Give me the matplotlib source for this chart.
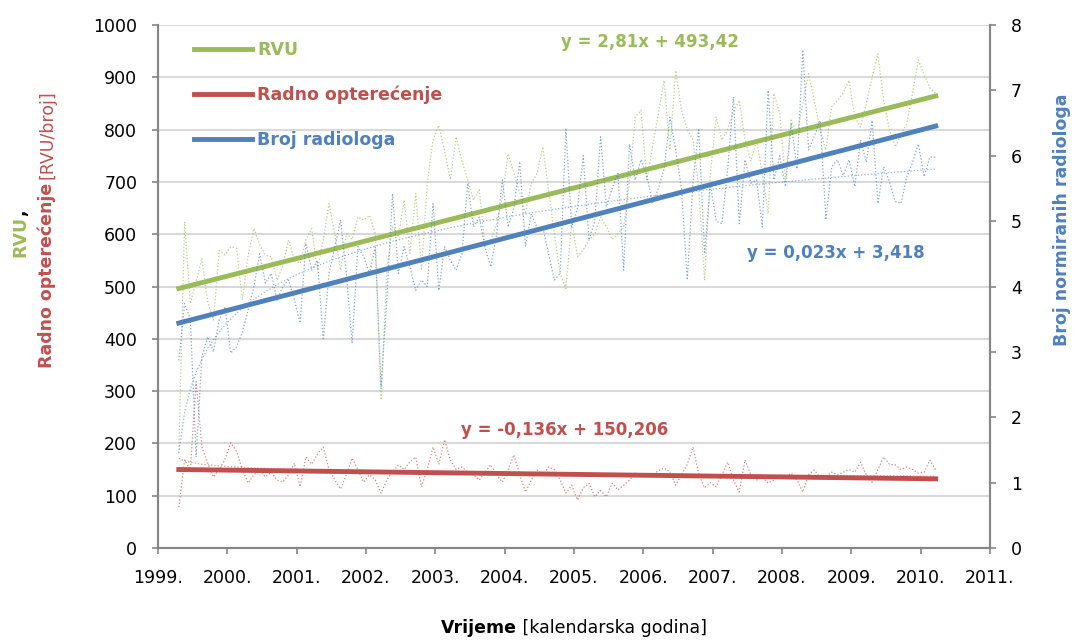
import numpy as np
import matplotlib
matplotlib.use('Agg')
import matplotlib.pyplot as plt

plt.rcParams['font.family'] = ['DejaVu Sans']

# mjesečni podaci, od travnja 1999.
start_year = 1999.3
rvu = [181, 624, 467, 510, 554, 470, 436, 569, 560, 576, 573, 474, 560, 611, 580, 560,
       557, 512, 540, 589, 550, 544, 590, 611, 531, 589, 659, 600, 531, 601, 590, 633,
       627, 636, 601, 283, 531, 614, 595, 665, 563, 678, 531, 697, 780, 808, 760, 704,
       786, 740, 704, 665, 685, 576, 589, 620, 671, 754, 716, 680, 639, 697, 716, 767,
       685, 600, 525, 496, 627, 557, 570, 589, 600, 633, 614, 590, 601, 614, 700, 824,
       837, 704, 767, 830, 894, 761, 913, 837, 800, 780, 685, 512, 716, 824, 780, 800,
       834, 856, 780, 740, 780, 716, 639, 869, 831, 704, 818, 792, 850, 907, 856, 800,
       761, 844, 856, 870, 894, 824, 805, 850, 900, 945, 856, 800, 767, 790, 812, 870,
       933, 905, 880, 869]
opterecenje = [78, 168, 150, 318, 193, 162, 136, 150, 170, 201, 185, 150, 124, 140, 149, 136,
               145, 130, 126, 140, 162, 117, 174, 160, 180, 193, 150, 130, 113, 140, 172, 150,
               126, 140, 130, 105, 130, 145, 159, 150, 165, 174, 117, 150, 193, 160, 207, 168,
               150, 155, 145, 140, 130, 145, 159, 140, 126, 150, 178, 140, 107, 130, 149, 140,
               155, 150, 130, 105, 120, 92, 115, 124, 98, 110, 98, 124, 111, 120, 130, 143,
               140, 136, 140, 148, 153, 145, 120, 140, 160, 193, 140, 115, 125, 117, 140, 164,
               130, 107, 168, 140, 130, 135, 124, 130, 140, 135, 143, 130, 107, 140, 149, 135,
               136, 145, 140, 145, 150, 145, 164, 140, 126, 150, 174, 160, 159, 150, 155, 150,
               143, 145, 168, 149]
radiolozi = [2.87, 3.74, 3.5, 1.39, 2.93, 3.23, 3.0, 3.49, 3.69, 2.98, 3.08, 3.3, 3.64, 4.0, 4.5, 4.05,
             4.2, 3.79, 4.0, 4.1, 3.8, 3.44, 4.66, 4.25, 4.4, 3.18, 4.2, 4.6, 5.02, 4.2, 3.13, 4.61,
             4.46, 4.2, 4.6, 2.46, 3.79, 5.42, 4.2, 4.61, 4.3, 3.94, 4.1, 4.0, 5.27, 3.94, 4.61, 4.4,
             4.25, 4.5, 5.58, 4.91, 5.06, 4.6, 4.3, 4.8, 5.63, 4.91, 5.2, 5.91, 4.61, 5.11, 4.9, 4.91,
             4.5, 4.1, 4.2, 6.42, 4.91, 5.2, 6.0, 4.71, 5.0, 6.29, 5.22, 5.5, 5.73, 4.25, 6.18, 5.63,
             5.94, 5.7, 5.27, 5.5, 5.8, 6.59, 6.09, 5.5, 4.1, 5.6, 6.42, 4.5, 5.58, 5.0, 4.96, 5.8,
             6.9, 4.96, 5.94, 5.58, 5.63, 4.91, 7.0, 5.63, 6.0, 5.53, 6.5, 5.8, 7.62, 6.09, 6.3, 6.54,
             5.02, 5.83, 5.94, 5.7, 5.94, 5.53, 6.24, 5.9, 6.54, 5.27, 5.83, 5.6, 5.3, 5.27, 5.68, 5.9,
             6.18, 5.68, 5.98, 5.98]

# linearni trendovi (koeficijenti s grafa)
trend_rvu = (2.81, 493.42)
trend_opt = (-0.136, 150.206)
trend_rad = (0.023, 3.418)
eq_rvu = 'y = 2,81x + 493,42'
eq_opt = 'y = -0,136x + 150,206'
eq_rad = 'y = 0,023x + 3,418'
years = list(range(1999, 2012))

green, red, blue = '#9BBB59', '#C0504D', '#4F81BD'
grey = '#868686'

n = len(rvu)
t = start_year + np.arange(n) / 12.0
idx = np.arange(1, n + 1)

fig = plt.figure(figsize=(10.76, 6.41), dpi=100)
ax = fig.add_axes([158 / 1076, 1 - 548 / 641, 832 / 1076, 523 / 641])
ax2 = ax.twinx()

ax.plot(t, rvu, color=green, lw=0.9, ls=':', alpha=0.7)
ax.plot(t, opterecenje, color=red, lw=0.9, ls=':', alpha=0.7)
ax2.plot(t, radiolozi, color=blue, lw=0.9, ls=':', alpha=0.7)

# logaritamski trendovi
c = np.polyfit(np.log(idx), opterecenje, 1)
ax.plot(t, np.polyval(c, np.log(idx)), color=red, lw=0.9, ls=':', alpha=0.6)
c = np.polyfit(np.log(idx), radiolozi, 1)
ax2.plot(t, np.polyval(c, np.log(idx)), color=blue, lw=0.9, ls=':', alpha=0.6)

h1, = ax.plot(t, trend_rvu[0] * idx + trend_rvu[1], color=green, lw=3.5, label='RVU')
h2, = ax.plot(t, trend_opt[0] * idx + trend_opt[1], color=red, lw=3.5, label='Radno opterećenje')
h3, = ax2.plot(t, trend_rad[0] * idx + trend_rad[1], color=blue, lw=3.5, label='Broj radiologa')

ax.set_xlim(1999, 2011)
ax.set_ylim(0, 1000)
ax2.set_ylim(0, 8)
ax.set_xticks(years)
ax.set_xticklabels([f'{y}.' for y in years])
ax.set_yticks(range(0, 1001, 100))
ax2.set_yticks(range(0, 9))
ax.grid(axis='y', color='#D9D9D9', lw=1.5)
ax.set_axisbelow(True)

for a in (ax, ax2):
    a.spines['top'].set_visible(False)
    for s in ('left', 'right', 'bottom'):
        a.spines[s].set_color(grey)
        a.spines[s].set_linewidth(1.5)
    a.tick_params(colors=grey, labelcolor='black', labelsize=12.5, length=4, width=1.2, pad=11)

leg = ax2.legend(handles=[h1, h2, h3], loc='upper left', bbox_to_anchor=(0.025, 1.0),
                 frameon=False, handlelength=3.3, handletextpad=0.3, labelspacing=1.55,
                 prop={'weight': 'bold', 'size': 12.5})
for txt, col in zip(leg.get_texts(), (green, red, blue)):
    txt.set_color(col)

ax.text(2006.1, 967, eq_rvu, color=green, weight='bold', fontsize=12, ha='center', va='center')
ax.text(2004.87, 226, eq_opt, color=red, weight='bold', fontsize=12, ha='center', va='center')
ax2.text(2008.77, 4.51, eq_rad, color=blue, weight='bold', fontsize=12, ha='center', va='center')

fig.text(1062 / 1076, 1 - 220 / 641, 'Broj normiranih radiologa', color=blue, weight='bold',
         fontsize=12.5, rotation=90, ha='center', va='center')

# složeni natpisi osi
fig.canvas.draw()
r = fig.canvas.get_renderer()
H, W = fig.bbox.height, fig.bbox.width

a1 = fig.text(20 / W, 1 - 257 / H, 'RVU', color=green, weight='bold', fontsize=12.5,
              rotation=90, ha='center', va='bottom')
bb = a1.get_window_extent(r)
fig.text(20 / W, bb.y1 / H, ',', color='black', weight='bold', fontsize=12.5,
         rotation=90, ha='center', va='bottom')

b1 = fig.text(47 / W, 1 - 368 / H, 'Radno opterećenje', color=red, weight='bold', fontsize=12.5,
              rotation=90, ha='center', va='bottom')
bb = b1.get_window_extent(r)
fig.text(47 / W, bb.y1 / H + 4 / H, '[RVU/broj]', color=red, fontsize=12.5,
         rotation=90, ha='center', va='bottom')

x1 = fig.text(0, 1 - 628 / H, 'Vrijeme', weight='bold', fontsize=12.5, ha='left', va='center')
x2 = fig.text(0, 1 - 628 / H, ' [kalendarska godina]', fontsize=12.5, ha='left', va='center')
w1 = x1.get_window_extent(r).width
w2 = x2.get_window_extent(r).width
left = 574 - (w1 + w2) / 2
x1.set_x(left / W)
x2.set_x((left + w1) / W)

fig.savefig('out.png', dpi=100)
